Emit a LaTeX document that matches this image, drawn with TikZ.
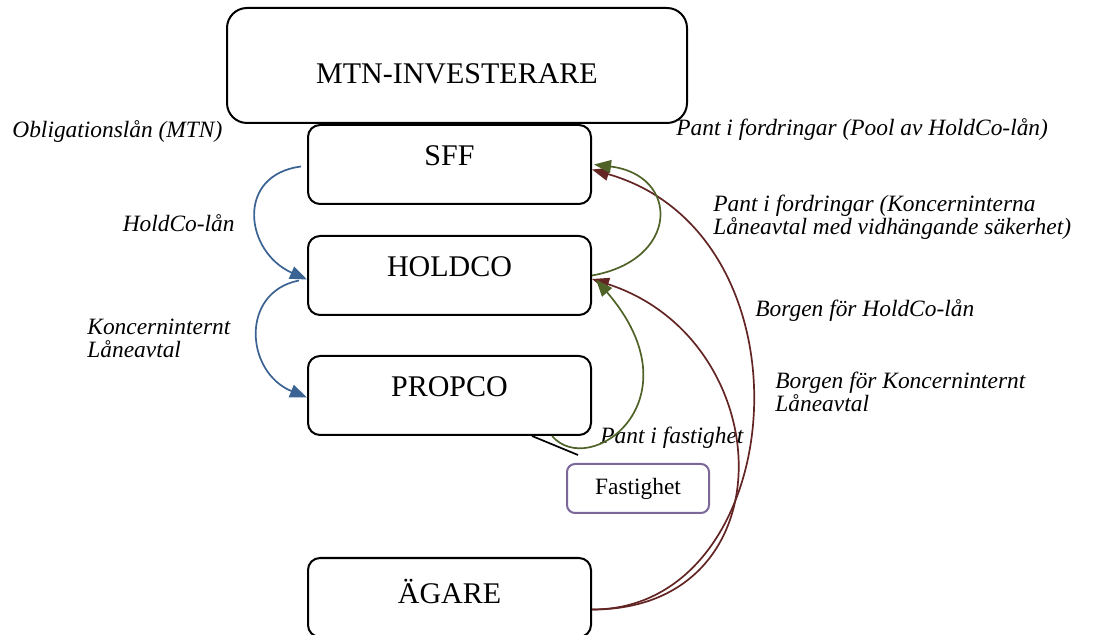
\documentclass[tikz,border=0pt]{standalone}
\usepackage{fontspec}
\setmainfont{Liberation Serif}
\usetikzlibrary{arrows.meta}
\definecolor{loanblue}{HTML}{3A6293}
\definecolor{pantgreen}{HTML}{4F6228}
\definecolor{borgred}{HTML}{632523}
\definecolor{fastpurple}{HTML}{7B6798}
\begin{document}
\begin{tikzpicture}[x=0.5pt,y=-0.5pt,
    box/.style={draw,line width=1pt,rounded corners=6pt,minimum width=141.5pt,minimum height=39.5pt},
    boxtext/.style={font=\fontsize{15}{18}\selectfont},
    lab/.style={font=\fontsize{11.7}{11.5}\selectfont\itshape,inner sep=0pt,align=left},
    arrowtip/.style={-{Triangle[length=8.5pt,width=6.5pt]}}]
  \useasboundingbox (0,0) rectangle (1097,635);

  % boxes
  \node[box,minimum width=230pt,minimum height=57.5pt,rounded corners=10pt,
        label={[boxtext,yshift=-4.25pt]center:MTN-INVESTERARE}] at (457,65.5) (mtn) {};
  \node[box,label={[boxtext,yshift=4.25pt]center:SFF}] at (449.5,164.5) (sff) {};
  \node[box,label={[boxtext,yshift=4.25pt]center:HOLDCO}] at (449.5,275.5) (hold) {};
  \node[box,label={[boxtext,yshift=4.5pt]center:PROPCO}] at (449.5,395.5) (prop) {};
  \node[box,label={[boxtext,yshift=3pt]center:ÄGARE}] at (449.5,597.5) (agare) {};
  \node[draw=fastpurple,line width=1pt,rounded corners=4pt,minimum width=71pt,minimum height=24.5pt,
        font=\fontsize{11.7}{14}\selectfont] at (638,488.5) (fast) {Fastighet};

  % labels
  \node[lab,anchor=west] at (12,132) (obl) {Obligationslån (MTN)};
  \node[lab,anchor=east] at (235,223) (hcl) {HoldCo-lån};
  \node[lab,anchor=west] at (87,338.5) (kla) {Koncerninternt\\Låneavtal};
  \node[lab,anchor=west] at (676,130) (pool) {Pant i fordringar (Pool av HoldCo-lån)};
  \node[lab,anchor=west] at (713,217.5) (pfk) {Pant i fordringar (Koncerninterna\\Låneavtal med vidhängande säkerhet)};
  \node[lab,anchor=west] at (755,311) (bhl) {Borgen för HoldCo-lån};
  \node[lab,anchor=west] at (775,391.5) (bkl) {Borgen för Koncerninternt\\Låneavtal};
  \node[lab,anchor=west] at (600,438) (pfa) {Pant i fastighet};

  \coordinate (pf) at (578,455);
  \draw[line width=0.85pt] ([xshift=41.25pt]prop.south) -- (pf);

  \begin{scope}[loanblue,line width=0.85pt,arrowtip]
    \draw ([xshift=-3pt,yshift=-1pt]sff.west) .. controls (235,175) and (245,252) .. ([yshift=-2pt]hold.west);
    \draw ([xshift=-4pt,yshift=-2.5pt]hold.west) .. controls (240,292) and (245,372) .. ([yshift=-1pt]prop.west);
  \end{scope}

  \begin{scope}[borgred,line width=0.85pt,arrowtip]
    \draw ([yshift=-6pt]agare.east) .. controls (790,610) and (820,235) .. ([yshift=-2.5pt]sff.east);
    \draw ([yshift=-6pt]agare.east) .. controls (790,610) and (780,340) .. ([yshift=-1.75pt]hold.east);
  \end{scope}

  \begin{scope}[pantgreen,line width=0.85pt,arrowtip]
    \draw (hold.east) .. controls (680,260) and (680,175) .. ([xshift=1pt]sff.east);
    \draw ([xshift=51.25pt]prop.south) .. controls (590,480) and (700,400) .. ([xshift=2pt,yshift=-2pt]hold.east);
  \end{scope}
\end{tikzpicture}
\end{document}
